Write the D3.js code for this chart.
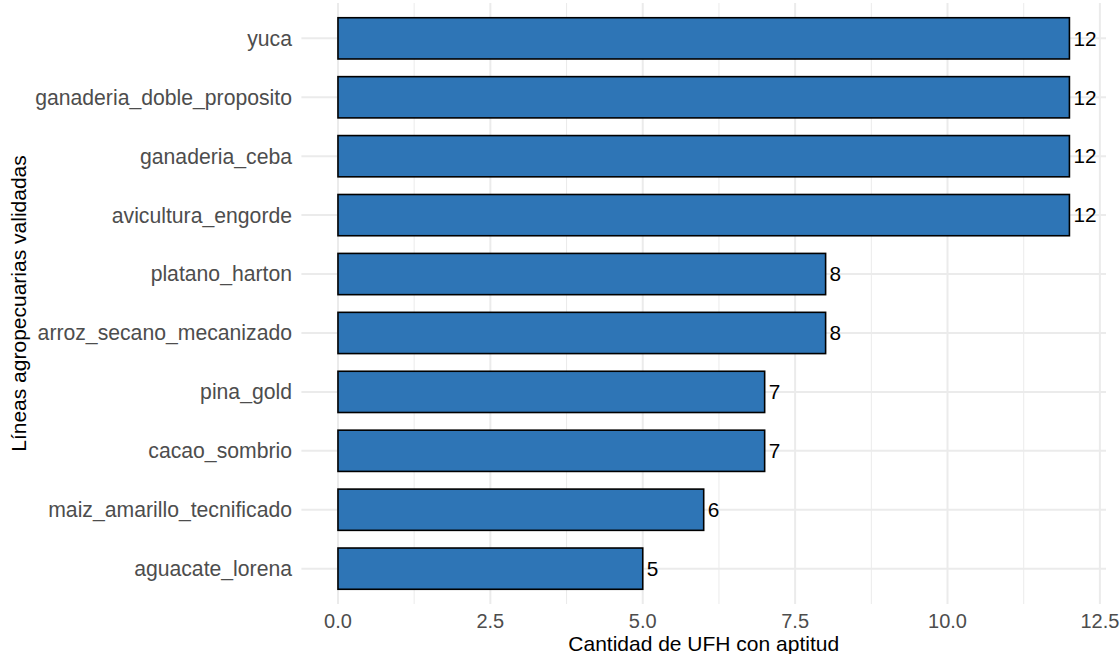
<!DOCTYPE html>
<html><head><meta charset="utf-8">
<script src="https://cdn.jsdelivr.net/npm/d3@7"></script>
<style>body{margin:0;background:#fff}svg{display:block}text{font-family:"Liberation Sans",Arial,sans-serif}</style>
</head><body><svg id="c" width="1120" height="654"></svg>
<script>
const categories = ["yuca","ganaderia_doble_proposito","ganaderia_ceba","avicultura_engorde","platano_harton","arroz_secano_mecanizado","pina_gold","cacao_sombrio","maiz_amarillo_tecnificado","aguacate_lorena"];
const values = [12,12,12,12,8,8,7,7,6,5];
const xTicks = [0,2.5,5,7.5,10,12.5];
const xMinor = [1.25,3.75,6.25,8.75,11.25];
const xTitle = "Cantidad de UFH con aptitud";
const yTitle = "Líneas agropecuarias validadas";

const svg = d3.select("#c");
const panel = {left:301.4, right:1106, top:3, bottom:604};
const x = d3.scaleLinear().domain([-0.6,12.6]).range([panel.left,panel.right]);
const yc = d3.scalePoint().domain(categories).range([panel.top,panel.bottom]).padding(0.6);
const step = yc.step();
const bh = step*0.7;

const g = svg.append("g");
g.selectAll("line.minor").data(xMinor).join("line")
  .attr("x1",d=>x(d)).attr("x2",d=>x(d)).attr("y1",panel.top).attr("y2",panel.bottom)
  .attr("stroke","#EBEBEB").attr("stroke-width",1);
g.selectAll("line.majx").data(xTicks).join("line")
  .attr("x1",d=>x(d)).attr("x2",d=>x(d)).attr("y1",panel.top).attr("y2",panel.bottom)
  .attr("stroke","#EBEBEB").attr("stroke-width",2);
g.selectAll("line.majy").data(categories).join("line")
  .attr("x1",panel.left).attr("x2",panel.right).attr("y1",d=>yc(d)).attr("y2",d=>yc(d))
  .attr("stroke","#EBEBEB").attr("stroke-width",2);

g.selectAll("rect.bar").data(categories).join("rect")
  .attr("x",x(0)).attr("y",d=>yc(d)-bh/2)
  .attr("width",(d,i)=>x(values[i])-x(0)).attr("height",bh)
  .attr("fill","#2E75B6").attr("stroke","#000").attr("stroke-width",1.6);

g.selectAll("text.val").data(categories).join("text")
  .attr("x",(d,i)=>x(values[i])+4).attr("y",d=>yc(d)).attr("dy","0.35em")
  .attr("font-size",20.8).attr("fill","#000").text((d,i)=>values[i]);

g.selectAll("text.xt").data(xTicks).join("text")
  .attr("x",d=>x(d)).attr("y",628).attr("text-anchor","middle")
  .attr("font-size",20).attr("fill","#4D4D4D").text(d=>d3.format(".1f")(d));
g.selectAll("text.yt").data(categories).join("text")
  .attr("x",292).attr("y",d=>yc(d)).attr("dy","0.35em").attr("text-anchor","end")
  .attr("font-size",21.2).attr("fill","#4D4D4D").text(d=>d);

svg.append("text").attr("x",(panel.left+panel.right)/2).attr("y",651).attr("text-anchor","middle")
  .attr("font-size",21).attr("fill","#000").text(xTitle);
svg.append("text").attr("transform",`translate(26,${(panel.top+panel.bottom)/2}) rotate(-90)`).attr("text-anchor","middle")
  .attr("font-size",21).attr("fill","#000").text(yTitle);
</script></body></html>
